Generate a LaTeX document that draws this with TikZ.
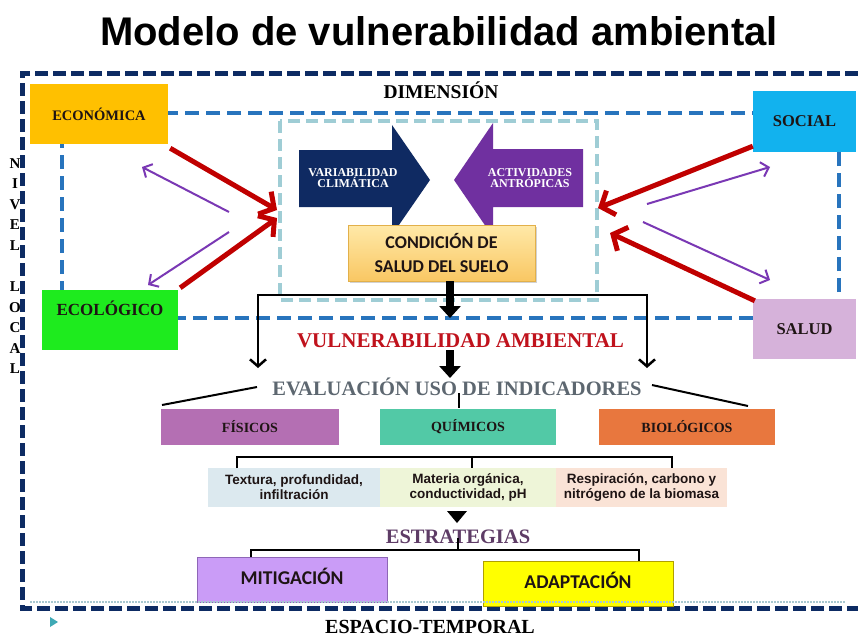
\documentclass[tikz,border=0pt]{standalone}
\usepackage{fontspec}
\setmainfont{Liberation Serif}
\newfontfamily\arialf{Liberation Sans}
\newfontfamily\calf{Carlito}
\usetikzlibrary{arrows.meta,shadows}
\definecolor{navyD}{HTML}{0D2B63}
\definecolor{blueD}{HTML}{2874BD}
\definecolor{tealD}{HTML}{9FCDD5}
\definecolor{ecoC}{HTML}{FFC000}
\definecolor{ecolC}{HTML}{1EEB1E}
\definecolor{socC}{HTML}{12B2EE}
\definecolor{salC}{HTML}{D6B2DA}
\definecolor{varC}{HTML}{0F2A62}
\definecolor{actC}{HTML}{7030A0}
\definecolor{redC}{HTML}{C00000}
\definecolor{purC}{HTML}{7A38B4}
\definecolor{condT}{HTML}{FFE9A8}
\definecolor{condB}{HTML}{F9C763}
\definecolor{condD}{HTML}{E2B04A}
\definecolor{fisC}{HTML}{B46FB3}
\definecolor{quiC}{HTML}{52C9A6}
\definecolor{bioC}{HTML}{E8773E}
\definecolor{dOne}{HTML}{DCE9EF}
\definecolor{dTwo}{HTML}{EEF5D8}
\definecolor{dThree}{HTML}{FAE3D6}
\definecolor{mitC}{HTML}{CA9CF7}
\definecolor{mitD}{HTML}{8E66B6}
\definecolor{adaC}{HTML}{FFFF00}
\definecolor{adaD}{HTML}{B0A000}
\definecolor{vulnC}{HTML}{C0121C}
\definecolor{evalC}{HTML}{5D6770}
\definecolor{estC}{HTML}{5E3C66}
\definecolor{dotC}{HTML}{A8C8D0}
\definecolor{triC}{HTML}{3FA9B5}
\definecolor{txtD}{HTML}{1E1414}
\tikzset{
  navydash/.style={draw=navyD, line width=5pt, dash pattern=on 13pt off 5pt},
  bluedash/.style={draw=blueD, line width=4pt, dash pattern=on 14pt off 7pt},
  tealdash/.style={draw=tealD, line width=4pt, dash pattern=on 12pt off 6pt},
  colbox/.style={inner sep=0pt, align=center, text=txtD},
  serhead/.style={font=\bfseries\fontsize{#1}{#1}\selectfont},
  redarr/.style={draw=redC, line width=5pt, -{Straight Barb[length=11pt,width=26pt]}},
  purarr/.style={draw=purC, line width=2pt, -{Straight Barb[length=7pt,width=15pt]}},
  blkline/.style={draw=black, line width=2.5pt},
  blkarr/.style={draw=black, line width=2.5pt, -{Straight Barb[length=7pt,width=16pt]}},
  fatarr/.style={draw=black, line width=8pt, -{Triangle[length=12pt,width=21pt]}},
  nlet/.style={font=\bfseries\fontsize{15}{15}\selectfont, inner sep=0pt},
}
\begin{document}
\begin{tikzpicture}[x=1pt,y=-1pt]
\useasboundingbox (0,0) rectangle (858,638);
\fill[white] (0,0) rectangle (858,638);

% title
\node[font=\arialf\bfseries\fontsize{40}{44}\selectfont, anchor=base, inner sep=0pt] (title) at (439,45) {Modelo de vulnerabilidad ambiental};

% NIVEL LOCAL
\foreach \l/\yy [count=\i] in {N/164,I/184,V/205,E/225,L/246,L/287,O/308,C/328,A/349,L/369}
  \node[nlet] (nl\i) at (15,\yy) {\l};

% frames
\draw[navydash] (858,73) -- (22,73) -- (22,608) -- (858,608);
\draw[bluedash] (62,113) rectangle (839,318);
\draw[tealdash] (280,121) rectangle (597,300);

\node[serhead=19.5, anchor=base, inner sep=0pt] (dim) at (441,98) {DIMENSIÓN};

% block arrows
\fill[varC] (299,150) -- (392,150) -- (392,125) -- (430,180) -- (392,235) -- (392,207) -- (299,207) -- cycle;
\fill[actC] (583,149) -- (493,149) -- (493,123) -- (454,180) -- (493,237) -- (493,207) -- (583,207) -- cycle;
\node[serhead=12, text=white, align=center, inner sep=0pt] (varT) at (353,178) {VARIABILIDAD\\[-1pt]CLIMÁTICA};
\node[serhead=12, text=white, align=center, inner sep=0pt] (actT) at (530,178) {ACTIVIDADES\\[-1pt]ANTRÓPICAS};

% condition box
\node[colbox, top color=condT, bottom color=condB, draw=condD, line width=0.6pt,
      minimum width=187pt, minimum height=56pt,
      drop shadow={opacity=0.35, shadow xshift=2pt, shadow yshift=-2pt},
      font=\calf\bfseries\fontsize{18}{24}\selectfont] (cond) at (441.5,253) {CONDICIÓN DE\\SALUD DEL SUELO};

% side boxes
\node[colbox, fill=ecoC, minimum width=138pt, minimum height=60pt, serhead=14.5] (eco) at (99,114) {ECONÓMICA};
\node[colbox, fill=ecolC, minimum width=136pt, minimum height=60pt] (ecol) at (110,320) {};
\node[serhead=17, text=txtD, inner sep=0pt] (ecolT) at (110,308) {ECOLÓGICO};
\node[colbox, fill=socC, minimum width=103pt, minimum height=61pt, serhead=16.5] (soc) at (804.5,121.5) {SOCIAL};
\node[colbox, fill=salC, minimum width=103pt, minimum height=60pt, serhead=16.5] (sal) at (804.5,329) {SALUD};

% red arrows
\coordinate (rl1) at (277,210);
\coordinate (rl2) at (277,218);
\coordinate (rr1) at (598,208);
\coordinate (rr2) at (610,233);
\draw[redarr] ([xshift=2pt,yshift=-4pt]eco.south east) -- (rl1);
\draw[redarr] ([xshift=2pt,yshift=2pt]ecol.north east) -- (rl2);
\draw[redarr] ([yshift=6pt]soc.south west) -- (rr1);
\draw[redarr] ([xshift=2pt,yshift=-2pt]sal.north west) -- (rr2);

% purple arrows
\coordinate (pl1s) at (229,212); \coordinate (pl1e) at (142,167);
\coordinate (pl2s) at (229,232); \coordinate (pl2e) at (148,285);
\coordinate (pr1s) at (647,204); \coordinate (pr1e) at (770,167);
\coordinate (pr2s) at (643,222); \coordinate (pr2e) at (770,280);
\draw[purarr] (pl1s) -- (pl1e);
\draw[purarr] (pl2s) -- (pl2e);
\draw[purarr] (pr1s) -- (pr1e);
\draw[purarr] (pr2s) -- (pr2e);

% vulnerability
\node[serhead=21, text=vulnC, anchor=base, inner sep=0pt] (vuln) at (460.5,347) {VULNERABILIDAD AMBIENTAL};
\coordinate (bL) at (258,295); \coordinate (bR) at (647,295);
\coordinate (bLe) at (258,368); \coordinate (bRe) at (647,368);
\draw[blkline] (bL) -- (bR);
\draw[blkarr] ([yshift=1.25pt]bL) -- (bLe);
\draw[blkarr] ([yshift=1.25pt]bR) -- (bRe);
\coordinate (fa1s) at (450,281); \coordinate (fa1e) at (450,318);
\draw[fatarr] (fa1s) -- (fa1e);
\coordinate (fa2s) at (450,350); \coordinate (fa2e) at (450,378);
\draw[fatarr] (fa2s) -- (fa2e);

% evaluation
\node[serhead=20.5, text=evalC, anchor=base, inner sep=0pt] (eval) at (457,395) {EVALUACIÓN USO DE INDICADORES};
\node[colbox, fill=fisC, minimum width=178pt, minimum height=36pt, serhead=14] (fis) at (250,427) {FÍSICOS};
\node[colbox, fill=quiC, minimum width=176pt, minimum height=36pt, serhead=14] (qui) at (468,427) {QUÍMICOS};
\node[colbox, fill=bioC, minimum width=176pt, minimum height=36pt, serhead=14] (bio) at (687,427) {BIOLÓGICOS};
\coordinate (evL) at (257,387); \coordinate (evR) at (652,385);
\coordinate (fisT) at (162,405); \coordinate (bioT) at (748,406);
\draw[black, line width=2pt] (evL) -- (fisT);
\draw[black, line width=2pt] (evR) -- (bioT);
\coordinate (tickA) at (459,393); \coordinate (tickB) at (459,408);
\draw[black, line width=2pt] (tickA) -- (tickB);

% descriptions
\node[colbox, fill=dOne, minimum width=172pt, minimum height=39pt, font=\arialf\bfseries\fontsize{13.5}{15}\selectfont] (d1) at (294,487.5) {Textura, profundidad,\\infiltración};
\node[colbox, fill=dTwo, minimum width=176pt, minimum height=39pt, font=\arialf\bfseries\fontsize{13.5}{15}\selectfont] (d2) at (468,487.5) {Materia orgánica,\\conductividad, pH};
\node[colbox, fill=dThree, minimum width=171pt, minimum height=39pt, font=\arialf\bfseries\fontsize{13.5}{15}\selectfont] (d3) at (641.5,487.5) {Respiración, carbono y\\nitrógeno de la biomasa};
\coordinate (kL) at (237,457); \coordinate (kM) at (472,457); \coordinate (kR) at (672,457);
\draw[blkline] (237,468) -- (kL) -- (kR) -- (672,468);
\draw[blkline] (kM) -- (472,468);

% strategies
\fill[black] (447,511) -- (467,511) -- (457,523) -- cycle;
\node[serhead=20.5, text=estC, anchor=base, inner sep=0pt] (est) at (458,543) {ESTRATEGIAS};
\node[colbox, fill=mitC, draw=mitD, line width=0.8pt, minimum width=190pt, minimum height=45pt, font=\calf\bfseries\fontsize{19.5}{22}\selectfont] (mit) at (292,579.5) {MITIGACIÓN\rule[-7pt]{0pt}{1pt}};
\node[colbox, fill=adaC, draw=adaD, line width=0.8pt, minimum width=190pt, minimum height=45pt, font=\calf\bfseries\fontsize{19.5}{22}\selectfont] (ada) at (578,583.5) {ADAPTACIÓN\rule[-7pt]{0pt}{1pt}};
\coordinate (sL) at (251,550); \coordinate (sR) at (639,550); \coordinate (sM) at (458,550);
\draw[blkline] (mit.north -| sL) -- (sL) -- (sR) -- (ada.north -| sR);
\draw[blkline] (sM) -- (458,538);

% bottom
\draw[dotC, line width=1.2pt, dash pattern=on 1.5pt off 1.5pt] (30,602) -- (845,602);
\node[serhead=20, anchor=base, inner sep=0pt] (esp) at (430,633) {ESPACIO-TEMPORAL};
\fill[triC] (50,617) -- (58,622) -- (50,627) -- cycle;
\end{tikzpicture}
\end{document}
